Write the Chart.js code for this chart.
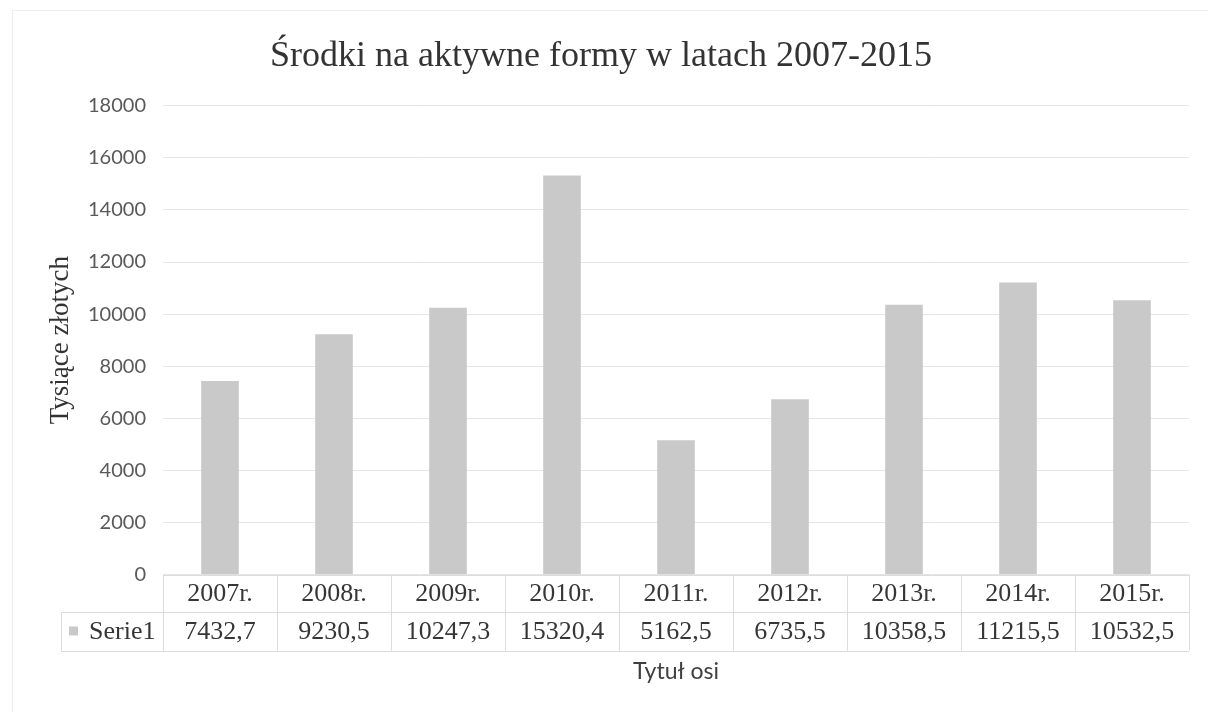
<!DOCTYPE html>
<html>
<head>
<meta charset="utf-8">
<script src="https://cdn.jsdelivr.net/npm/chart.js@4.4.1/dist/chart.umd.min.js"></script>
<style>
  html, body { margin: 0; padding: 0; background: #ffffff; }
  #wrap { width: 1208px; height: 712px; }
</style>
</head>
<body>
<div id="wrap"><canvas id="c" width="1208" height="712"></canvas></div>
<script>
const chartTitle = 'Środki na aktywne formy w latach 2007-2015';
const yAxisTitle = 'Tysiące złotych';
const xAxisTitle = 'Tytuł osi';
const seriesName = 'Serie1';
const categories = ['2007r.', '2008r.', '2009r.', '2010r.', '2011r.', '2012r.', '2013r.', '2014r.', '2015r.'];
const values = [7432.7, 9230.5, 10247.3, 15320.4, 5162.5, 6735.5, 10358.5, 11215.5, 10532.5];
const yTicks = [0, 2000, 4000, 6000, 8000, 10000, 12000, 14000, 16000, 18000];

const serif = '"Liberation Serif", "Times New Roman", serif';
const sans = 'Lato, "Open Sans", sans-serif';
const barColor = '#c9c9c9';
const lineColor = '#dcdcdc';
const textColor = '#363636';

function fmt(v) { return v.toFixed(1).replace('.', ','); }

const tablePlugin = {
  id: 'dataTable',
  afterDraw(chart) {
    const ctx = chart.ctx;
    const xs = chart.scales.x;
    const area = chart.chartArea;
    const n = categories.length;
    const w = (xs.right - xs.left) / n;
    const top = area.bottom;
    const r1 = top + 37.5;
    const r2 = top + 76;
    const labelLeft = 61;
    ctx.save();
    ctx.strokeStyle = lineColor;
    ctx.lineWidth = 1;
    ctx.beginPath();
    ctx.moveTo(xs.left, Math.round(top) + 0.5); ctx.lineTo(xs.right, Math.round(top) + 0.5);
    ctx.moveTo(labelLeft, Math.round(r1) + 0.5); ctx.lineTo(xs.right, Math.round(r1) + 0.5);
    ctx.moveTo(labelLeft, Math.round(r2) + 0.5); ctx.lineTo(xs.right, Math.round(r2) + 0.5);
    for (let i = 0; i <= n; i++) {
      const x = Math.round(xs.left + i * w) + 0.5;
      ctx.moveTo(x, top); ctx.lineTo(x, r2);
    }
    ctx.moveTo(labelLeft + 0.5, Math.round(r1)); ctx.lineTo(labelLeft + 0.5, r2);
    ctx.stroke();

    ctx.fillStyle = textColor;
    ctx.font = '26px ' + serif;
    ctx.textAlign = 'center';
    ctx.textBaseline = 'middle';
    for (let i = 0; i < n; i++) {
      const cx = xs.getPixelForValue(i);
      ctx.fillText(categories[i], cx, (top + r1) / 2 + 1);
      ctx.fillText(fmt(values[i]), cx, (r1 + r2) / 2 + 1);
    }
    ctx.fillStyle = barColor;
    ctx.fillRect(69, (r1 + r2) / 2 - 5, 9, 9);
    ctx.fillStyle = textColor;
    ctx.textAlign = 'left';
    ctx.fillText(seriesName, 89, (r1 + r2) / 2 + 1);

    ctx.strokeStyle = '#ececec';
    ctx.beginPath();
    ctx.moveTo(12.5, 10); ctx.lineTo(12.5, 712);
    ctx.moveTo(12, 10.5); ctx.lineTo(1208, 10.5);
    ctx.stroke();
    ctx.restore();
  }
};

new Chart(document.getElementById('c'), {
  type: 'bar',
  data: {
    labels: categories,
    datasets: [{
      label: seriesName,
      data: values,
      backgroundColor: barColor,
      borderWidth: 0,
      barPercentage: 0.33,
      categoryPercentage: 1.0
    }]
  },
  options: {
    responsive: false,
    animation: false,
    layout: { padding: { top: 10, left: 13, right: 19, bottom: 12.2 } },
    plugins: {
      legend: { display: false },
      tooltip: { enabled: false },
      title: {
        display: true,
        text: chartTitle,
        color: '#333333',
        font: { family: serif, size: 36, weight: 'normal' },
        padding: { top: 25, bottom: 27.5 }
      }
    },
    scales: {
      x: {
        grid: { display: false },
        border: { display: false },
        ticks: { display: false },
        title: {
          display: true,
          text: xAxisTitle,
          color: '#404040',
          font: { family: sans, size: 23 },
          padding: { top: 75.5, bottom: 14 }
        }
      },
      y: {
        min: 0,
        max: 18000,
        afterFit(scale) { scale.width = 150; },
        afterBuildTicks(scale) { scale.ticks = yTicks.map(v => ({ value: v })); },
        grid: { color: '#e6e6e6', drawTicks: false },
        border: { display: false },
        ticks: {
          padding: 17,
          color: '#595959',
          font: { family: sans, size: 20 },
          callback: (v) => String(v)
        },
        title: {
          display: true,
          text: yAxisTitle,
          color: '#333333',
          font: { family: serif, size: 27, weight: 'normal' },
          padding: { top: 32, bottom: 0 }
        }
      }
    }
  },
  plugins: [tablePlugin]
});
</script>
</body>
</html>
